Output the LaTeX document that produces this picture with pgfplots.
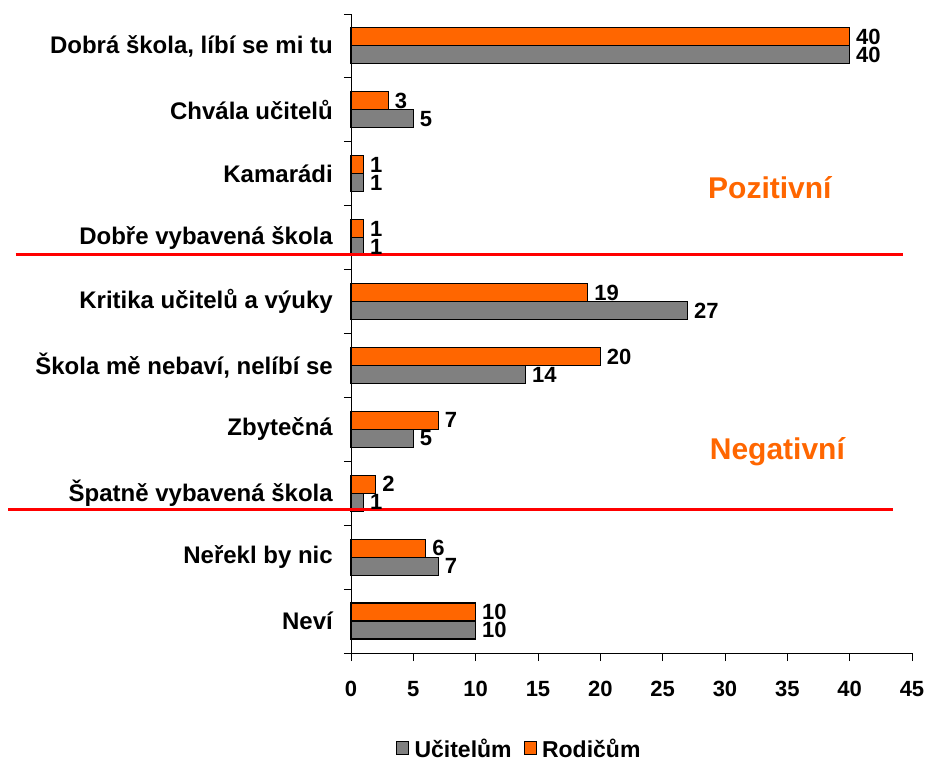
\documentclass[border=0pt]{standalone}
\usepackage{pgfplots}
\pgfplotsset{compat=1.18}
\usepackage{fontspec}
\setmainfont{Liberation Sans}
\definecolor{barGray}{HTML}{808080}
\definecolor{barOrange}{HTML}{FF6600}
\begin{document}
\begin{tikzpicture}
\useasboundingbox (-351pt,-109pt) rectangle (580pt,653pt);
\begin{axis}[
  scale only axis, width=561pt, height=639pt,
  at={(0pt,0pt)}, anchor=south west,
  xmin=0, xmax=45, ymin=-0.5, ymax=9.5,
  xbar, bar width=18pt,
  clip=false,
  axis lines*=left,
  axis line style={black, line width=0.8pt},
  xtick={0,5,...,45},
  ytick={0,...,9},
  minor ytick={-0.5,0.5,...,9.5},
  yticklabels={{Neví},{Neřekl by nic},{Špatně vybavená škola},{Zbytečná\ },{Škola mě nebaví, nelíbí se},{Kritika učitelů a výuky},{Dobře vybavená škola},{Kamarádi\ },{Chvála učitelů},{Dobrá škola, líbí se mi tu}},
  tick align=outside,
  major tick length=8pt, minor tick length=7pt,
  major y tick style={draw=none},
  minor y tick style={black, line width=0.8pt},
  major x tick style={black, line width=0.8pt},
  /pgf/number format/assume math mode=true,
  yticklabel style={font=\fontsize{24}{28}\selectfont\bfseries, inner sep=2pt, xshift=-8pt},
  xticklabel style={font=\fontsize{22}{26}\selectfont\bfseries, yshift=-17pt},
  nodes near coords={\pgfmathprintnumber{\pgfplotspointmeta}},
  point meta=x,
  every node near coord/.append style={font=\fontsize{22}{26}\selectfont\bfseries, anchor=west, inner sep=2pt, xshift=4pt, text=black},
  legend style={at={(0.30,-0.150)}, anchor=center, legend columns=2, draw=none, font=\fontsize{23}{26}\selectfont\bfseries, /tikz/every even column/.append style={column sep=10pt}},
  legend image code/.code={\draw[#1,draw=black,line width=0.8pt] (0pt,-6pt) rectangle (12pt,7pt); \path[draw=none,fill=none] (0pt,0pt) -- (16pt,0pt);},
]
\addplot[fill=barGray, draw=black, line width=1.1pt, bar shift=-9pt] coordinates {
 (10,0) (7,1) (1,2) (5,3) (14,4) (27,5) (1,6) (1,7) (5,8) (40,9)
};
\addlegendentry{Učitelům}
\addplot[fill=barOrange, draw=black, line width=1.1pt, bar shift=9pt] coordinates {
 (10,0) (6,1) (2,2) (7,3) (20,4) (19,5) (1,6) (1,7) (3,8) (40,9)
};
\addlegendentry{Rodičům}
\draw[red, line width=3pt] (axis cs:-26.9,5.73) -- (axis cs:44.3,5.73);
\draw[red, line width=3pt] (axis cs:-27.5,1.74) -- (axis cs:43.5,1.74);
\node[text=barOrange, font=\fontsize{30}{34}\selectfont\bfseries] at (axis cs:33.6,6.79) {Pozitivní};
\node[text=barOrange, font=\fontsize{30}{34}\selectfont\bfseries] at (axis cs:34.2,2.65) {Negativní};
\end{axis}
\end{tikzpicture}
\end{document}
